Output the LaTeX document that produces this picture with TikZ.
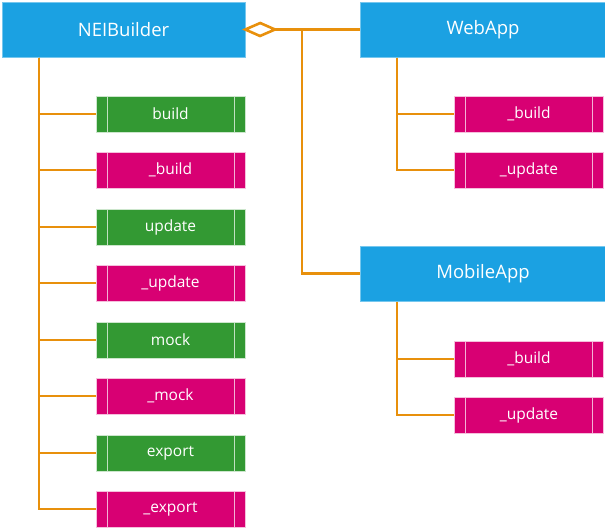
\documentclass[tikz,border=0pt]{standalone}
\usepackage{fontspec}
\setmainfont{Open Sans}
\definecolor{hdr}{HTML}{1BA1E2}
\definecolor{pub}{HTML}{339933}
\definecolor{priv}{HTML}{D80073}
\definecolor{link}{HTML}{E8900C}
\tikzset{
  hdrbox/.style={fill=hdr, draw=hdr!60!white, line width=0.5pt, minimum width=243pt, minimum height=55pt, text=white, font=\fontsize{18.5}{20}\selectfont, inner sep=0pt},
  methbox/.style={draw=white!75!#1, line width=0.5pt, fill=#1, minimum width=149pt, minimum height=36pt, text=white, font=\fontsize{15.5}{17}\selectfont, inner sep=0pt,
    path picture={\draw[white!70!#1, line width=0.8pt]
      ([xshift=11pt]path picture bounding box.north west) -- ([xshift=11pt]path picture bounding box.south west)
      ([xshift=-11pt]path picture bounding box.north east) -- ([xshift=-11pt]path picture bounding box.south east);}},
  conn/.style={draw=link, line width=2.6pt}
}
\begin{document}
\begin{tikzpicture}[x=1pt,y=-1pt]
\useasboundingbox (0,0) rectangle (605,530);
% headers
\node[hdrbox] (nei) at (123.5,29.5) {NEIBuilder};
\node[hdrbox, minimum width=246pt] (web) at (483,29.5) {WebApp};
\node[hdrbox, minimum width=246pt] (mob) at (483,273.5) {MobileApp};
% left methods
\node[methbox=pub]  (m1) at (170.5,114) {build};
\node[methbox=priv] (m2) at (170.5,170) {\_build};
\node[methbox=pub]  (m3) at (170.5,227) {update};
\node[methbox=priv] (m4) at (170.5,283) {\_update};
\node[methbox=pub]  (m5) at (170.5,340) {mock};
\node[methbox=priv] (m6) at (170.5,396) {\_mock};
\node[methbox=pub]  (m7) at (170.5,453) {export};
\node[methbox=priv] (m8) at (170.5,509) {\_export};
% web methods
\node[methbox=priv] (w1) at (529,114) {\_build};
\node[methbox=priv] (w2) at (529,170) {\_update};
% mobile methods
\node[methbox=priv] (p1) at (529,359) {\_build};
\node[methbox=priv] (p2) at (529,415) {\_update};
% trunks
\coordinate (lt) at (39,57.5);
\coordinate (wt) at (397,57.5);
\coordinate (pt) at (397,301.5);
\coordinate (dt) at (275,29.5);
\coordinate (vt) at (302,29.5);
\begin{scope}[conn]
\foreach \m in {m1,m2,m3,m4,m5,m6,m7,m8} \draw (lt) |- (\m.west);
\foreach \m in {w1,w2} \draw (wt) |- (\m.west);
\foreach \m in {p1,p2} \draw (pt) |- (\m.west);
\draw (dt) -- (web.west);
\draw (vt) |- (mob.west);
\end{scope}
% aggregation diamond
\draw[link, line width=2.6pt, fill=white, line join=miter] (nei.east) -- ++(15,-6.5) -- (dt) -- ++(-15,6.5) -- cycle;
\end{tikzpicture}
\end{document}
